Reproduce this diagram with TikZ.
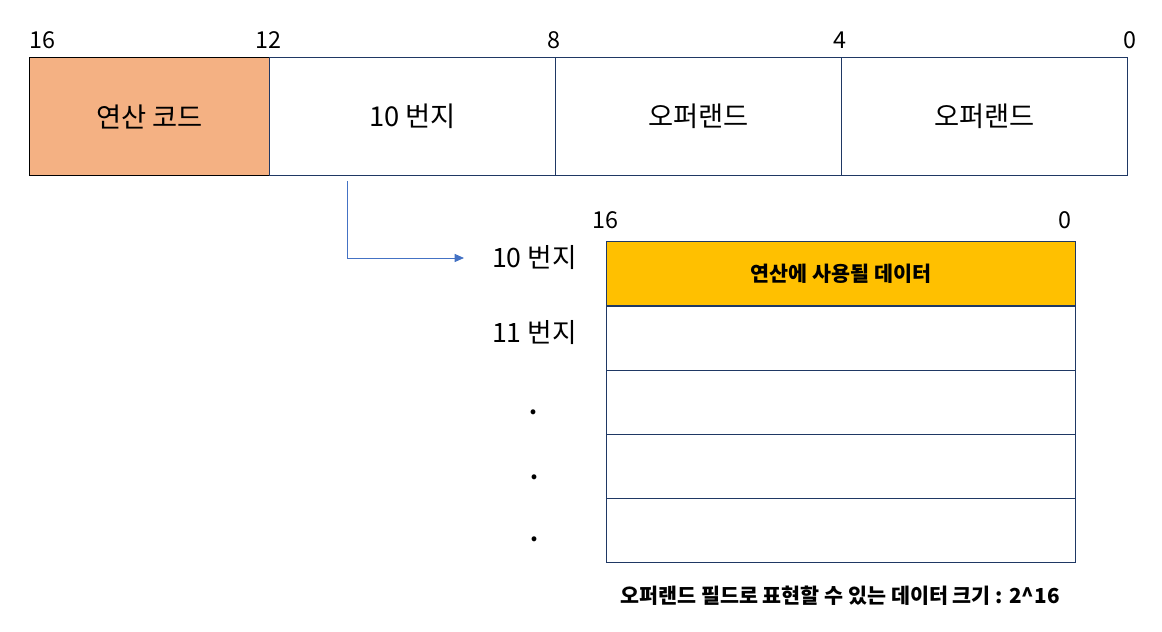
\documentclass[tikz,border=0pt]{standalone}
\usepackage{fontspec}
\setmainfont{Noto Sans CJK KR}
\usetikzlibrary{arrows.meta}
\definecolor{navy}{HTML}{1F3864}
\definecolor{opc}{HTML}{F4B183}
\definecolor{gold}{HTML}{FFC000}
\definecolor{arr}{HTML}{4472C4}
\tikzset{
  cell/.style={draw=navy, line width=0.9pt, anchor=north west, inner sep=0pt, font=\fontsize{20.5}{24}\selectfont},
  mem/.style={draw=navy, line width=0.9pt, anchor=north west, inner sep=0pt, minimum width={469*0.75pt}, minimum height={64*0.75pt}, font=\bfseries\fontsize{15.5}{18}\selectfont},
  bitlbl/.style={font=\fontsize{17.5}{20}\selectfont, inner sep=0pt},
  addrlbl/.style={font=\fontsize{20}{24}\selectfont, inner sep=0pt, anchor=east},
  dotlbl/.style={font=\bfseries\fontsize{17}{20}\selectfont, inner sep=0pt},
  link/.style={draw=arr, line width=0.75pt, -{Triangle[length=7pt,width=6pt]}}
}
\begin{document}
\begin{tikzpicture}[x=0.75pt, y=-0.75pt]
\useasboundingbox (0,0) rectangle (1162,631);
% top instruction
\node[cell, fill=opc, draw=black, minimum width={240*0.75pt}, minimum height={118*0.75pt}] (opcode) at (29,57) {연산 코드};
\node[cell, minimum width={286*0.75pt}, minimum height={118*0.75pt}] (addr) at (269,57) {10 번지};
\node[cell, minimum width={286*0.75pt}, minimum height={118*0.75pt}] (opd1) at (555,57) {오퍼랜드};
\node[cell, minimum width={286*0.75pt}, minimum height={118*0.75pt}] (opd2) at (841,57) {오퍼랜드};
% bit labels
\node[bitlbl] (b16) at (42,40) {16};
\node[bitlbl] (b12) at (268,40) {12};
\node[bitlbl] (b8) at (554,40) {8};
\node[bitlbl] (b4) at (840,40) {4};
\node[bitlbl] (b0) at (1130,40) {0};
% memory
\node[mem, fill=gold] (m0) at (606,241) {연산에 사용될 데이터};
\node[mem] (m1) at (606,306) {};
\node[mem] (m2) at (606,370) {};
\node[mem] (m3) at (606,434) {};
\node[mem] (m4) at (606,498) {};
\node[bitlbl] (mb16) at (605,220) {16};
\node[bitlbl] (mb0) at (1065,220) {0};
% address labels
\node[addrlbl] (a10) at (577,258) {10 번지};
\node[addrlbl] (a11) at (577,333) {11 번지};
\node[dotlbl] (d1) at (533,412) {.};
\node[dotlbl] (d2) at (534,477) {.};
\node[dotlbl] (d3) at (534,539) {.};
% arrow
\coordinate (s) at (347,181);
\coordinate (t) at (464,258);
\draw[link] (s) |- (t);
% caption
\node[font=\bfseries\fontsize{15.5}{18}\selectfont, inner sep=0pt] (cap) at (840,596) {오퍼랜드 필드로 표현할 수 있는 데이터 크기 : 2\^{}16};
\end{tikzpicture}
\end{document}
